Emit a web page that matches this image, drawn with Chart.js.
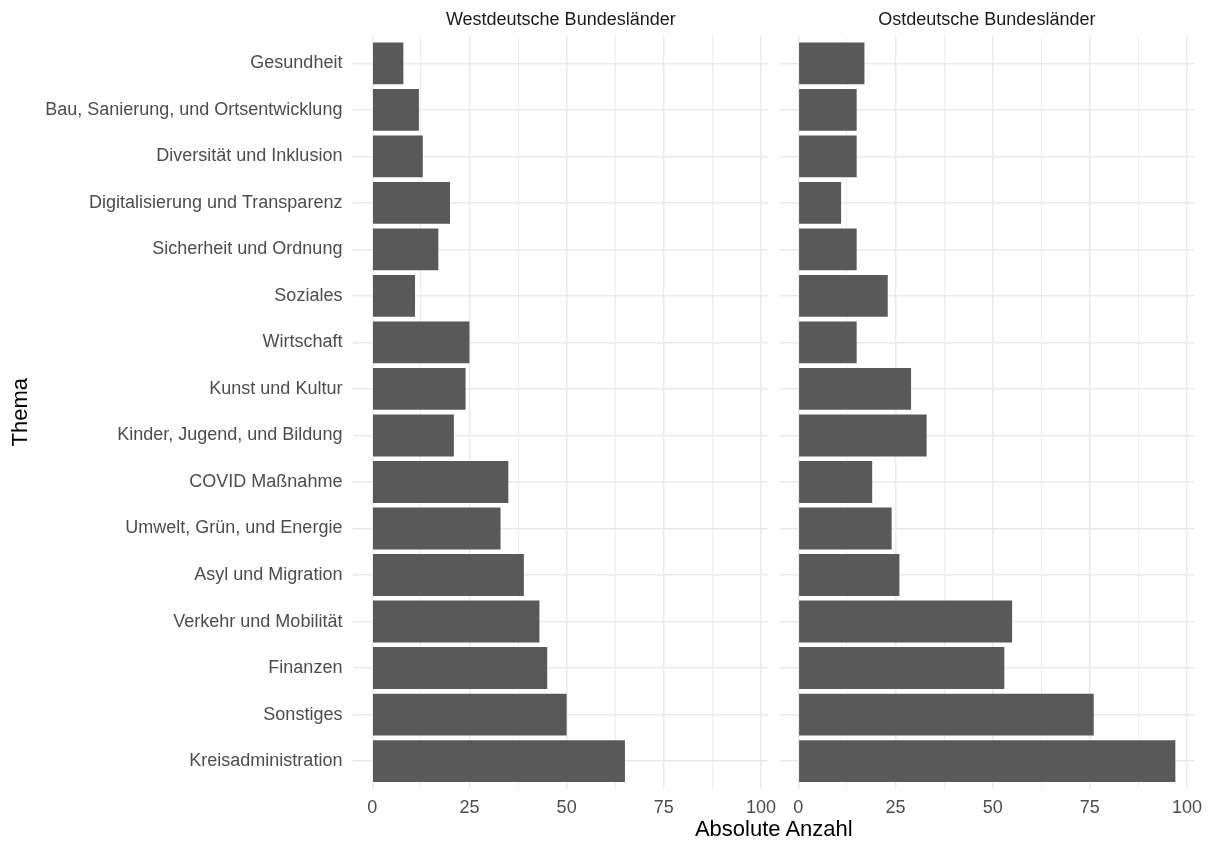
<!DOCTYPE html>
<html>
<head>
<meta charset="utf-8">
<script src="https://cdn.jsdelivr.net/npm/chart.js@4"></script>
<style>
  html, body { margin: 0; padding: 0; background: #ffffff; }
  #wrap { position: relative; width: 1212px; height: 846px; overflow: hidden; background: #fff; }
  canvas { position: absolute; top: 0; }
  #cLeft { left: 0; }
  #cRight { left: 772px; }
  #xTitle { position: absolute; left: 573.8px; width: 400px; top: 818px; text-align: center;
            font-family: "Liberation Sans", Arial, sans-serif; font-size: 22px; line-height: 22px; color: #000; }
</style>
</head>
<body>
<div id="wrap">
  <canvas id="cLeft" width="792" height="846"></canvas>
  <canvas id="cRight" width="440" height="846"></canvas>
  <div id="xTitle">Absolute Anzahl</div>
</div>
<script>
const categories = [
  'Gesundheit',
  'Bau, Sanierung, und Ortsentwicklung',
  'Diversität und Inklusion',
  'Digitalisierung und Transparenz',
  'Sicherheit und Ordnung',
  'Soziales',
  'Wirtschaft',
  'Kunst und Kultur',
  'Kinder, Jugend, und Bildung',
  'COVID Maßnahme',
  'Umwelt, Grün, und Energie',
  'Asyl und Migration',
  'Verkehr und Mobilität',
  'Finanzen',
  'Sonstiges',
  'Kreisadministration'
];
const west = [8, 12, 13, 20, 17, 11, 25, 24, 21, 35, 33, 39, 43, 45, 50, 65];
const east = [17, 15, 15, 11, 15, 23, 15, 29, 33, 19, 24, 26, 55, 53, 76, 97];
const majorTicks = [0, 25, 50, 75, 100];
const gridTicks = [0, 12.5, 25, 37.5, 50, 62.5, 75, 87.5, 100];
const panelTitles = ['Westdeutsche Bundesländer', 'Ostdeutsche Bundesländer'];
const yTitle = 'Thema';

const FONT = '"Liberation Sans", Arial, sans-serif';
const GRID = '#ebebeb';
const BAR = '#595959';

const dataMax = Math.max(...west, ...east);
const xMin = -0.05 * dataMax;
const xMax = dataMax * 1.05;

const stripPlugin = {
  id: 'strip',
  afterDraw(chart, args, opts) {
    const ctx = chart.ctx;
    const a = chart.chartArea;
    ctx.save();
    ctx.font = '18px ' + FONT;
    ctx.fillStyle = '#1a1a1a';
    ctx.textAlign = 'center';
    ctx.textBaseline = 'alphabetic';
    ctx.fillText(opts.text, (a.left + a.right) / 2, 25);
    ctx.restore();
  }
};

function makeChart(id, values, title, showY, yWidth, rightPad) {
  return new Chart(document.getElementById(id), {
    type: 'bar',
    data: {
      datasets: [{
        data: categories.map((c, i) => ({ x: values[i], y: i })),
        backgroundColor: BAR,
        borderWidth: 0,
        barPercentage: 0.9,
        categoryPercentage: 1.0
      }]
    },
    plugins: [stripPlugin],
    options: {
      indexAxis: 'y',
      responsive: false,
      animation: false,
      devicePixelRatio: 1,
      layout: { padding: { left: 0, right: rightPad, top: 35.4, bottom: 0 } },
      plugins: {
        legend: { display: false },
        tooltip: { enabled: false },
        strip: { text: title }
      },
      scales: {
        x: {
          type: 'linear',
          min: xMin,
          max: xMax,
          afterBuildTicks: (s) => { s.ticks = gridTicks.map(v => ({ value: v })); },
          afterFit: (s) => { s.height = 57; },
          border: { display: false },
          grid: {
            color: GRID,
            drawTicks: false,
            lineWidth: (ctx) => (ctx.tick && majorTicks.includes(ctx.tick.value)) ? 1.5 : 0.9
          },
          ticks: {
            autoSkip: false,
            maxRotation: 0,
            padding: 8.2,
            color: '#4d4d4d',
            font: { family: FONT, size: 18 },
            callback: (v) => majorTicks.includes(v) ? String(v) : ''
          }
        },
        y: {
          type: 'linear',
          offset: false,
          min: -0.6,
          max: categories.length - 1 + 0.6,
          reverse: true,
          afterBuildTicks: (s) => { s.ticks = categories.map((c, i) => ({ value: i })); },
          afterFit: (s) => { s.width = yWidth; },
          border: { display: false },
          grid: { color: GRID, drawTicks: false, lineWidth: 1.5, offset: false },
          title: {
            display: showY,
            text: yTitle,
            color: '#000',
            font: { family: FONT, size: 22 },
            padding: { top: 8, bottom: 0 }
          },
          ticks: {
            display: showY,
            autoSkip: false,
            padding: 11,
            color: '#4d4d4d',
            font: { family: FONT, size: 18 },
            callback: (v) => categories[v]
          }
        }
      }
    }
  });
}

makeChart('cLeft', west, panelTitles[0], true, 353.4, 792 - 768.2);
makeChart('cRight', east, panelTitles[1], false, 7.5, 440 - 422.2);
</script>
</body>
</html>
